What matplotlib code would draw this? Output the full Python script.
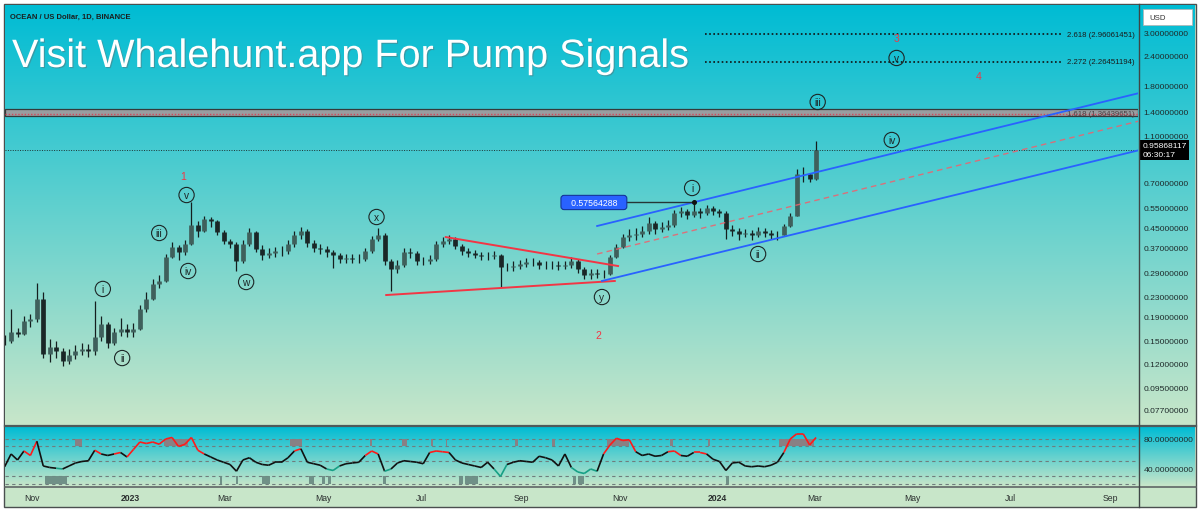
import numpy as np
import matplotlib
matplotlib.use("Agg")
import matplotlib.pyplot as plt
import matplotlib.dates as mdates
import matplotlib.patheffects as pe
from matplotlib.collections import LineCollection
from matplotlib.colors import LinearSegmentedColormap
from matplotlib.lines import Line2D
from matplotlib.patches import Rectangle
from matplotlib.transforms import blended_transform_factory

plt.rcParams['font.family'] = ['Liberation Sans', 'DejaVu Sans']

W, H = 1200, 510

# ---- price data, one bar per 4 days ----
bar_start = "2022-10-15"
bar_days = 4
closes = [0.149, 0.163, 0.160, 0.182, 0.185, 0.225, 0.131, 0.141, 0.136, 0.123,
          0.130, 0.136, 0.138, 0.136, 0.155, 0.176, 0.147, 0.163, 0.168, 0.163,
          0.168, 0.204, 0.225, 0.260, 0.268, 0.338, 0.373, 0.355, 0.384, 0.463,
          0.435, 0.490, 0.480, 0.430, 0.395, 0.384, 0.326, 0.384, 0.430, 0.366,
          0.346, 0.352, 0.359, 0.359, 0.384, 0.420, 0.436, 0.388, 0.370, 0.366,
          0.355, 0.345, 0.332, 0.335, 0.332, 0.332, 0.359, 0.403, 0.420, 0.326,
          0.301, 0.313, 0.355, 0.352, 0.326, 0.326, 0.332, 0.384, 0.395, 0.403,
          0.377, 0.359, 0.352, 0.346, 0.342, 0.342, 0.346, 0.307, 0.307, 0.310,
          0.317, 0.323, 0.323, 0.313, 0.313, 0.313, 0.310, 0.313, 0.326, 0.301,
          0.284, 0.290, 0.287, 0.287, 0.338, 0.373, 0.411, 0.420, 0.425, 0.435,
          0.470, 0.445, 0.453, 0.463, 0.519, 0.528, 0.512, 0.528, 0.519, 0.545,
          0.528, 0.519, 0.445, 0.436, 0.425, 0.429, 0.420, 0.436, 0.429, 0.420,
          0.420, 0.458, 0.507, 0.762, 0.757, 0.724, 0.9587]
highs = [0.158, 0.204, 0.170, 0.190, 0.195, 0.262, 0.240, 0.152, 0.150, 0.140,
         0.138, 0.144, 0.146, 0.145, 0.220, 0.190, 0.180, 0.170, 0.186, 0.176,
         0.178, 0.212, 0.240, 0.272, 0.285, 0.350, 0.392, 0.380, 0.400, 0.577,
         0.480, 0.505, 0.500, 0.485, 0.440, 0.405, 0.390, 0.400, 0.450, 0.435,
         0.380, 0.368, 0.374, 0.378, 0.398, 0.436, 0.452, 0.444, 0.398, 0.384,
         0.376, 0.364, 0.352, 0.350, 0.348, 0.348, 0.370, 0.416, 0.450, 0.428,
         0.332, 0.328, 0.368, 0.368, 0.360, 0.340, 0.346, 0.396, 0.410, 0.420,
         0.410, 0.385, 0.368, 0.362, 0.356, 0.356, 0.358, 0.350, 0.320, 0.324,
         0.330, 0.336, 0.336, 0.330, 0.326, 0.326, 0.324, 0.326, 0.338, 0.332,
         0.306, 0.300, 0.300, 0.298, 0.345, 0.385, 0.425, 0.445, 0.448, 0.458,
         0.498, 0.480, 0.474, 0.485, 0.534, 0.550, 0.540, 0.5756, 0.545, 0.562,
         0.555, 0.540, 0.528, 0.462, 0.450, 0.446, 0.442, 0.452, 0.448, 0.440,
         0.434, 0.465, 0.520, 0.800, 0.810, 0.770, 1.050]
lows = [0.144, 0.147, 0.155, 0.158, 0.172, 0.180, 0.126, 0.122, 0.126, 0.117,
        0.119, 0.125, 0.130, 0.128, 0.130, 0.150, 0.140, 0.143, 0.157, 0.155,
        0.156, 0.166, 0.198, 0.222, 0.250, 0.265, 0.335, 0.330, 0.345, 0.380,
        0.410, 0.430, 0.455, 0.420, 0.385, 0.370, 0.295, 0.320, 0.375, 0.355,
        0.330, 0.334, 0.340, 0.342, 0.350, 0.374, 0.405, 0.374, 0.356, 0.350,
        0.340, 0.304, 0.318, 0.318, 0.318, 0.318, 0.325, 0.352, 0.395, 0.312,
        0.242, 0.290, 0.306, 0.336, 0.314, 0.312, 0.316, 0.326, 0.372, 0.385,
        0.365, 0.346, 0.340, 0.334, 0.330, 0.330, 0.332, 0.253, 0.294, 0.296,
        0.300, 0.306, 0.310, 0.302, 0.300, 0.300, 0.298, 0.300, 0.304, 0.290,
        0.274, 0.274, 0.276, 0.276, 0.285, 0.335, 0.370, 0.395, 0.400, 0.410,
        0.425, 0.425, 0.430, 0.440, 0.455, 0.500, 0.490, 0.500, 0.495, 0.510,
        0.510, 0.500, 0.405, 0.415, 0.400, 0.410, 0.400, 0.410, 0.412, 0.402,
        0.400, 0.418, 0.455, 0.505, 0.700, 0.700, 0.720]
rsi = [43, 60, 52, 64, 58, 77, 44, 42, 41, 40,
       44, 48, 50, 51, 65, 60, 58, 60, 62, 56,
       66, 76, 74, 76, 73, 80, 82, 70, 73, 82,
       65, 60, 56, 52, 49, 46, 37, 52, 55, 49,
       46, 45, 49, 49, 55, 64, 67, 49, 47, 45,
       40, 38, 44, 47, 48, 49, 58, 64, 60, 37,
       40, 48, 51, 50, 49, 47, 62, 64, 63, 62,
       52, 48, 46, 44, 42, 49, 40, 30, 46, 49,
       51, 50, 49, 57, 55, 52, 44, 60, 42, 36,
       34, 40, 37, 60, 72, 81, 78, 79, 63, 58,
       60, 57, 58, 63, 64, 58, 57, 62, 62, 60,
       53, 50, 38, 48, 49, 44, 43, 44, 43, 45,
       49, 62, 80, 87, 87, 72, 82]

# rsi zone boxes (start, end)
rsi_hot = [("2022-11-28", "2022-12-02"), ("2023-01-22", "2023-02-06"),
           ("2023-04-10", "2023-04-18"), ("2023-05-30", "2023-05-31"),
           ("2023-06-19", "2023-06-22"), ("2023-07-07", "2023-07-08"),
           ("2023-07-16", "2023-07-17"), ("2023-08-28", "2023-08-30"),
           ("2023-09-20", "2023-09-22"), ("2023-10-24", "2023-11-07"),
           ("2023-12-02", "2023-12-04"), ("2023-12-26", "2023-12-27"),
           ("2024-02-08", "2024-03-01")]
rsi_cold = [("2022-11-09", "2022-11-23"), ("2023-02-26", "2023-02-27"),
            ("2023-03-08", "2023-03-09"), ("2023-03-24", "2023-03-29"),
            ("2023-04-22", "2023-04-25"), ("2023-04-30", "2023-05-02"),
            ("2023-05-04", "2023-05-06"), ("2023-06-07", "2023-06-09"),
            ("2023-07-24", "2023-07-27"), ("2023-07-28", "2023-08-05"),
            ("2023-10-03", "2023-10-05"), ("2023-10-06", "2023-10-10"),
            ("2024-01-06", "2024-01-08")]
rsi_levels = [80, 70, 50, 30, 20]
rsi_ticks = [80, 40]

# elliott wave labels
wave_labels = [("i", "2022-12-15", 0.248), ("ii", "2022-12-27", 0.1265),
               ("iii", "2023-01-19", 0.4276), ("iv", "2023-02-06", 0.2953),
               ("v", "2023-02-05", 0.619), ("w", "2023-03-14", 0.2653),
               ("x", "2023-06-03", 0.4997), ("y", "2023-10-21", 0.2292),
               ("i", "2023-12-16", 0.6628), ("ii", "2024-01-26", 0.3485),
               ("iii", "2024-03-03", 1.532), ("iv", "2024-04-18", 1.058),
               ("v", "2024-04-21", 2.352)]
red_counts = [("1", "2023-02-03", 0.745), ("2", "2023-10-19", 0.1583),
              ("3", "2024-04-21", 2.857), ("4", "2024-06-11", 1.973)]

# drawn lines
triangle_upper = [("2023-07-16", 0.411), ("2023-10-31", 0.310)]
triangle_lower = [("2023-06-09", 0.2337), ("2023-10-29", 0.268)]
channel_upper = [("2023-10-18", 0.4578), ("2024-09-20", 1.68)]
channel_mid = [("2023-10-18", 0.3485), ("2024-09-20", 1.279)]
channel_lower = [("2023-10-21", 0.268), ("2024-09-20", 0.963)]

fib_levels = [("2.618", 2.96061451), ("2.272", 2.26451194)]
fib_band_level = ("1.618", 1.36439651)
fib_band = (1.337, 1.431)
fib_start, fib_end, fib_label_at = "2023-12-24", "2024-08-02", "2024-08-05"

marked_high = 0.57564288
marked_label_date, marked_point_date = "2023-10-16", "2023-12-17"
last_price = 0.95868117
countdown = "06:30:17"

price_ticks = [3.0, 2.4, 1.8, 1.4, 1.1, 0.7, 0.55, 0.45, 0.37, 0.29,
               0.23, 0.19, 0.15, 0.12, 0.095, 0.077]
month_ticks = ["2022-11-01", "2023-01-01", "2023-03-01", "2023-05-01",
               "2023-07-01", "2023-09-01", "2023-11-01", "2024-01-01",
               "2024-03-01", "2024-05-01", "2024-07-01", "2024-09-01"]
month_labels = ["Nov", "2023", "Mar", "May", "Jul", "Sep",
                "Nov", "2024", "Mar", "May", "Jul", "Sep"]


def d(s):
    return mdates.datestr2num(s)


fig = plt.figure(figsize=(W / 100, H / 100), dpi=100, facecolor='white')


def px_axes(x0, y0, x1, y1):
    return fig.add_axes([x0 / W, 1 - y1 / H, (x1 - x0) / W, (y1 - y0) / H])


def fig_line(x0, y0, x1, y1, **kw):
    fig.add_artist(Line2D([x0 / W, x1 / W], [1 - y0 / H, 1 - y1 / H],
                          transform=fig.transFigure, **kw))


# frame
fig.patches.append(Rectangle((4 / W, 1 - 508 / H), 1192 / W, 503 / H,
                             transform=fig.transFigure, fc='#c8e6c9',
                             ec='#4a4f4f', lw=1.0, zorder=-5))

# gradient backgrounds (chart + price scale column)
grad_cmap = LinearSegmentedColormap.from_list('bg', ['#00bcd4', '#c8e6c9'])
grad = np.linspace(0, 1, 256).reshape(-1, 1)
for y0, y1 in [(6, 426), (428, 487)]:
    bg = px_axes(5, y0, 1195, y1)
    bg.imshow(grad, aspect='auto', cmap=grad_cmap, extent=[0, 1, 0, 1])
    bg.set_axis_off()

# time scale
PPD = 1.61
x_left = d("2022-11-01") - (32 - 5) / PPD
x_right = d("2022-11-01") + (1138 - 32) / PPD

# ---------------- price panel ----------------
ax = px_axes(5, 6, 1138, 426)
ax.patch.set_alpha(0)
ax.set_yscale('log')
ax.set_ylim(0.0659, 3.94)
ax.set_xlim(x_left, x_right)
for s in ax.spines.values():
    s.set_visible(False)
ax.set_xticks([])
ax.yaxis.tick_right()
ax.set_yticks(price_ticks)
ax.set_yticklabels([f"{v:.8f}" for v in price_ticks])
ax.yaxis.set_minor_locator(matplotlib.ticker.NullLocator())
ax.tick_params(axis='y', length=0, pad=4, labelsize=6.1, labelcolor='#1e2a2a')

t = d(bar_start) + np.arange(len(closes)) * bar_days
c = np.array(closes)
o = np.r_[c[0], c[:-1]]
up = c >= o
ax.vlines(t, lows, highs, color='#141e1e', lw=0.9, zorder=3)
ax.vlines(t[up], o[up], c[up], color='#3f605c', lw=3.4, zorder=4)
ax.vlines(t[~up], c[~up], o[~up], color='#1a2727', lw=3.4, zorder=4)

# fib band and levels
ax.axhspan(*fib_band, fc='#999da0', ec='#353a3a', lw=0.9, zorder=2)
ax.axhline(fib_band_level[1], color='#d4475a', lw=1.0, ls=(0, (1, 1.3)), zorder=2)
ax.text(d(fib_label_at), fib_band_level[1],
        f"{fib_band_level[0]} ({fib_band_level[1]:.8f})",
        fontsize=5.6, color='#4a4045', va='center', ha='left', zorder=3)
for lvl, v in fib_levels:
    ax.plot([d(fib_start), d(fib_end)], [v, v], color='#111111', lw=1.2,
            ls=(0, (1, 1.5)), zorder=3)
    ax.text(d(fib_label_at), v, f"{lvl} ({v:.8f})", fontsize=5.6,
            color='#1a1a1a', va='center', ha='left', zorder=3)

# last price line
ax.axhline(last_price, color='#1e3333', lw=0.7, ls=(0, (1, 1.5)), zorder=2)

# triangle and channel
for seg in (triangle_upper, triangle_lower):
    ax.plot([d(p[0]) for p in seg], [p[1] for p in seg], color='#f23645',
            lw=1.4, zorder=5)
for seg in (channel_upper, channel_lower):
    ax.plot([d(p[0]) for p in seg], [p[1] for p in seg], color='#2962ff',
            lw=1.3, zorder=5)
ax.plot([d(p[0]) for p in channel_mid], [p[1] for p in channel_mid],
        color='#f0606c', lw=1.0, ls=(0, (4, 3)), alpha=0.85, zorder=5)

# marked high
ax.plot([d(marked_label_date), d(marked_point_date)], [marked_high] * 2,
        color='#263636', lw=1.0, zorder=5)
ax.plot([d(marked_point_date)], [marked_high], 'o', ms=2.6, color='#111111',
        zorder=6)
ax.text(d(marked_label_date), marked_high, f"   {marked_high:.8f}   ",
        fontsize=6.3, color='white', ha='center', va='center', zorder=7,
        bbox=dict(boxstyle='round,pad=0.3,rounding_size=0.35', fc='#2962ff',
                  ec='#14349a', lw=0.8))

# wave labels
for lab, ds, p in wave_labels:
    ax.text(d(ds), p, lab, fontsize=7.3, color='#1c2626', ha='center',
            va='center', zorder=7,
            bbox=dict(boxstyle='circle,pad=0.26', fc='none', ec='#1c2626', lw=0.8))
for lab, ds, p in red_counts:
    ax.text(d(ds), p, lab, fontsize=7.5, color='#f23645', ha='center',
            va='center', zorder=7)

# price scale label for last price
tr = blended_transform_factory(ax.transAxes, ax.transData)
ax.text(1.004, last_price, f"{last_price:.8f}\n{countdown}", transform=tr,
        fontsize=6.1, color='white', ha='left', va='center', linespacing=1.25,
        zorder=8, clip_on=False,
        bbox=dict(boxstyle='square,pad=0.3', fc='black', ec='none'))

# ---------------- rsi panel ----------------
ax_r = px_axes(5, 428, 1138, 487)
ax_r.patch.set_alpha(0)
ax_r.set_xlim(x_left, x_right)
ax_r.set_ylim(17.3, 96)
for s in ax_r.spines.values():
    s.set_visible(False)
for lvl in rsi_levels:
    ax_r.axhline(lvl, color='#6f7d7d', lw=0.8, ls=(0, (3, 3)), zorder=1)
for a, b in rsi_hot:
    ax_r.add_patch(Rectangle((d(a), 70), d(b) - d(a), 10, fc='#8e7c80',
                             ec='none', alpha=0.95, zorder=2))
for a, b in rsi_cold:
    ax_r.add_patch(Rectangle((d(a), 20), d(b) - d(a), 10, fc='#6c8c84',
                             ec='none', alpha=0.95, zorder=2))

pts = np.column_stack([t, rsi])
segs = np.stack([pts[:-1], pts[1:]], axis=1)
mid = (np.array(rsi[:-1]) + np.array(rsi[1:])) / 2
seg_colors = ['#ff1a1a' if m >= 61 else '#16a085' if m <= 41 else '#111111'
              for m in mid]
ax_r.add_collection(LineCollection(segs, colors=seg_colors, linewidths=1.2,
                                   zorder=3))

ax_r.yaxis.tick_right()
ax_r.set_yticks(rsi_ticks)
ax_r.set_yticklabels([f"{v:.8f}" for v in rsi_ticks])
ax_r.tick_params(axis='y', length=0, pad=4, labelsize=6.1, labelcolor='#1e2a2a')
ax_r.set_xticks([d(s) for s in month_ticks])
ax_r.set_xticklabels(month_labels)
ax_r.tick_params(axis='x', length=0, pad=5, labelsize=6.2, labelcolor='#2a2e2e')
for lab in ax_r.get_xticklabels():
    if lab.get_text().isdigit():
        lab.set_fontweight('bold')

# separators
fig_line(5, 427, 1196, 427, color='#4f5a5a', lw=1.6)
fig_line(5, 488, 1196, 488, color='#5f6666', lw=1.2)
fig_line(1139, 5, 1139, 508, color='#3f4646', lw=1.0)

# header texts
fig.text(10 / W, 1 - 17 / H, "OCEAN / US Dollar, 1D, BINANCE", fontsize=5.5,
         fontweight='bold', color='#1a1f1f', va='center', ha='left')
fig.text(12 / W, 1 - 68 / H, "Visit Whalehunt.app For Pump Signals",
         fontsize=28.5, color='white', va='baseline', ha='left',
         path_effects=[pe.SimplePatchShadow(offset=(0.8, -0.8),
                                            shadow_rgbFace='#4f8088', alpha=0.6),
                       pe.Normal()])

# currency box
fig.patches.append(Rectangle((1143 / W, 1 - 26 / H), 49 / W, 16 / H,
                             transform=fig.transFigure, fc='white',
                             ec='#b0b8b8', lw=0.6, zorder=5))
fig.text(1149 / W, 1 - 18 / H, "USD", fontsize=5.6, color='#333',
         va='center', ha='left', zorder=6)

fig.savefig("out.png", dpi=100, facecolor=fig.get_facecolor())
